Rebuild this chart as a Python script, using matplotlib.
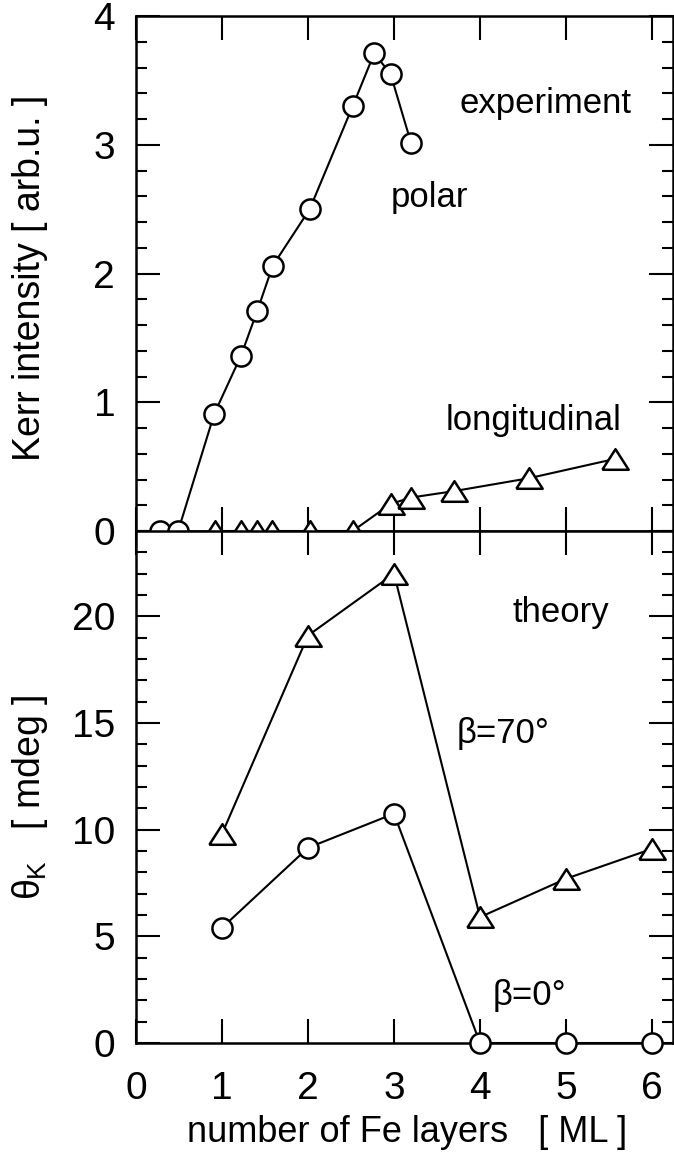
import matplotlib
matplotlib.use("Agg")
import matplotlib.pyplot as plt
from matplotlib.ticker import MultipleLocator

plt.rcParams['font.family'] = ['Liberation Sans', 'DejaVu Sans']
plt.rcParams['mathtext.fontset'] = 'custom'
plt.rcParams['mathtext.rm'] = 'Liberation Sans'
plt.rcParams['mathtext.it'] = 'Liberation Sans'

# experiment: polar (circles)
polar_x = [0.28, 0.49, 0.91, 1.22, 1.41, 1.59, 2.02, 2.52, 2.77, 2.96, 3.20]
polar_y = [0.0, 0.0, 0.91, 1.36, 1.71, 2.06, 2.50, 3.30, 3.71, 3.55, 3.01]
# experiment: longitudinal (triangles)
long_x = [0.92, 1.22, 1.41, 1.58, 2.02, 2.52, 2.96, 3.20, 3.70, 4.57, 5.57]
long_y = [0.0, 0.0, 0.0, 0.0, 0.0, 0.0, 0.21, 0.26, 0.31, 0.41, 0.56]
# theory
theory_x = [1, 2, 3, 4, 5, 6]
beta70 = [9.8, 19.1, 22.0, 5.9, 7.7, 9.1]
beta0 = [5.4, 9.15, 10.75, 0.0, 0.0, 0.0]

xticks = [0, 1, 2, 3, 4, 5, 6]
top_yticks = [0, 1, 2, 3, 4]
bot_yticks = [0, 5, 10, 15, 20]

W, H = 674, 1171
fig = plt.figure(figsize=(W / 100, H / 100), dpi=100)
left, right = 136 / W, 673 / W
ax1 = fig.add_axes([left, 1 - 531 / H, right - left, (531 - 16) / H])
ax2 = fig.add_axes([left, 1 - 1043 / H, right - left, (1043 - 531) / H])

tri = [(-1, -0.78), (1, -0.78), (0, 0.78), (-1, -0.78)]
lw = 1.5
circ_kw = dict(marker='o', ms=14.5, mfc='white', mec='black', mew=1.8,
               color='black', lw=lw, clip_on=False, zorder=5)
tri_kw = dict(marker=tri, ms=19, mfc='white', mec='black', mew=1.8,
              color='black', lw=lw, clip_on=False, zorder=5)

ax1.plot(long_x, long_y, **tri_kw)
ax1.plot(polar_x, polar_y, **circ_kw)
ax2.plot(theory_x, beta70, **tri_kw)
ax2.plot(theory_x, beta0, **circ_kw)

xmax = (673 - 136) / 86.0
for ax in (ax1, ax2):
    ax.set_xlim(0, xmax)
    ax.set_xticks(xticks)
    for s in ax.spines.values():
        s.set_linewidth(1.8)
    ax.tick_params(axis='both', which='major', direction='in', length=17,
                   width=1.5, labelsize=28, top=True, right=True, pad=15)
    ax.tick_params(axis='both', which='minor', direction='in', length=8,
                   width=1.5, top=True, right=True)
    ax.tick_params(axis='x', pad=20)

ax1.set_ylim(0, 4)
ax1.set_yticks(top_yticks)
ax1.yaxis.set_minor_locator(MultipleLocator(0.2))
ax1.tick_params(axis='x', labelbottom=False)

ax2.set_ylim(0, 24)
ax2.set_yticks(bot_yticks)
ax2.yaxis.set_minor_locator(MultipleLocator(1))

fs = 25
ax1.text(4.76, 3.32, 'experiment', fontsize=fs, ha='center', va='center')
ax1.text(3.41, 2.59, 'polar', fontsize=fs, ha='center', va='center')
ax1.text(4.62, 0.86, 'longitudinal', fontsize=fs, ha='center', va='center')
ax2.text(4.94, 20.2, 'theory', fontsize=fs, ha='center', va='center')
ax2.text(4.27, 14.5, 'β=70°', fontsize=fs, ha='center', va='center')
ax2.text(4.58, 2.25, 'β=0°', fontsize=fs, ha='center', va='center')

fig.text(30 / W, 1 - 278 / H, 'Kerr intensity [ arb.u. ]', fontsize=27,
         rotation=90, ha='center', va='center')
fig.text(30 / W, 1 - 797 / H, r'$\theta_{\mathrm{K}}$   [ mdeg ]', fontsize=27,
         rotation=90, ha='center', va='center')
fig.text(407 / W, 1 - 1133 / H, 'number of Fe layers   [ ML ]', fontsize=26,
         ha='center', va='center')

fig.savefig('out.png', dpi=100)
